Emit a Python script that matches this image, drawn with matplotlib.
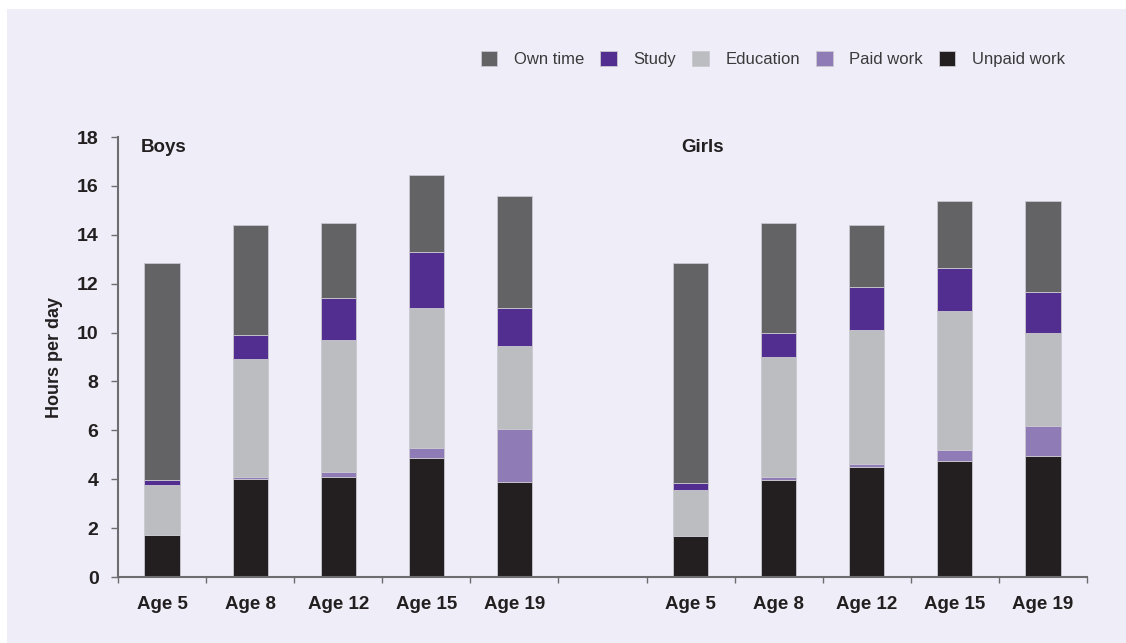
import numpy as np
import matplotlib.pyplot as plt
from matplotlib.patches import Rectangle

plt.rcParams['font.family'] = ['Liberation Sans', 'DejaVu Sans']

ages = ['Age 5', 'Age 8', 'Age 12', 'Age 15', 'Age 19']
series = ['Unpaid work', 'Paid work', 'Education', 'Study', 'Own time']
colors = ['#231f20', '#8f7cb6', '#bcbdc1', '#522e91', '#636365']

# hours per day, bottom to top
boys_unpaid = [1.7, 4.0, 4.1, 4.85, 3.87]
boys_paid = [0.0, 0.1, 0.2, 0.43, 2.2]
boys_edu = [2.08, 4.82, 5.39, 5.71, 3.37]
boys_study = [0.2, 0.97, 1.73, 2.29, 1.55]
boys_own = [8.87, 4.5, 3.08, 3.17, 4.59]

girls_unpaid = [1.68, 3.98, 4.51, 4.76, 4.96]
girls_paid = [0.0, 0.11, 0.11, 0.42, 1.22]
girls_edu = [1.87, 4.93, 5.49, 5.7, 3.82]
girls_study = [0.3, 0.98, 1.74, 1.75, 1.64]
girls_own = [9.0, 4.49, 2.53, 2.75, 3.74]

boys = [boys_unpaid, boys_paid, boys_edu, boys_study, boys_own]
girls = [girls_unpaid, girls_paid, girls_edu, girls_study, girls_own]

fig = plt.figure(figsize=(11.26, 6.43), dpi=100, facecolor='white')
bg = '#efeef8'
fig.patches.append(Rectangle((7 / 1126, 0), 1, 1 - 9 / 643, transform=fig.transFigure,
                             facecolor=bg, edgecolor='none', zorder=-10))

ax = fig.add_axes([118 / 1126, 1 - 577 / 643, (1087 - 118) / 1126, (577 - 137) / 643])
ax.set_facecolor('none')

xb = np.arange(5)
xg = np.arange(6, 11)
width = 0.4
for x, data in [(xb, boys), (xg, girls)]:
    bottom = np.zeros(5)
    for vals, c, name in zip(data, colors, series):
        ax.bar(x, vals, width, bottom=bottom, color=c, edgecolor='#c9c8d0',
               linewidth=0.6, label=name if x[0] == 0 else None)
        bottom += np.array(vals)

ax.set_xlim(-0.5, 10.5)
ax.set_ylim(0, 18)
ax.set_yticks(range(0, 19, 2))
ax.set_xticks(list(xb) + list(xg))
ax.set_xticklabels(ages + ages, fontsize=13.5, fontweight='bold', color='#231f20')
ax.tick_params(axis='x', length=0, pad=14)
ax.set_xticks(np.arange(-0.5, 11, 1), minor=True)
ax.tick_params(axis='x', which='minor', length=4, color='#6d6d70', width=1)
ax.tick_params(axis='y', labelsize=14, length=5, color='#6d6d70', width=1, pad=9)
for lbl in ax.get_yticklabels():
    lbl.set_fontweight('bold')
    lbl.set_color('#231f20')
ax.set_ylabel('Hours per day', fontsize=13, fontweight='bold', color='#231f20', labelpad=10)

for s in ['top', 'right']:
    ax.spines[s].set_visible(False)
for s in ['left', 'bottom']:
    ax.spines[s].set_color('#6d6d70')
    ax.spines[s].set_linewidth(1.5)

ax.text(-0.24, 17.55, 'Boys', fontsize=13.5, fontweight='bold', color='#231f20', va='center')
ax.text(5.89, 17.55, 'Girls', fontsize=13.5, fontweight='bold', color='#231f20', va='center')

handles, labels = ax.get_legend_handles_labels()
order = [4, 3, 2, 1, 0]
fig.legend([handles[i] for i in order], [labels[i] for i in order],
           loc='center right', bbox_to_anchor=(1080 / 1126, 1 - 59 / 643), ncol=5,
           frameon=False, fontsize=12, handlelength=1.0, handleheight=1.0,
           handletextpad=1.0, columnspacing=0.95, labelcolor='#3a3a3c')

fig.savefig('out.png', dpi=100, facecolor='white')
